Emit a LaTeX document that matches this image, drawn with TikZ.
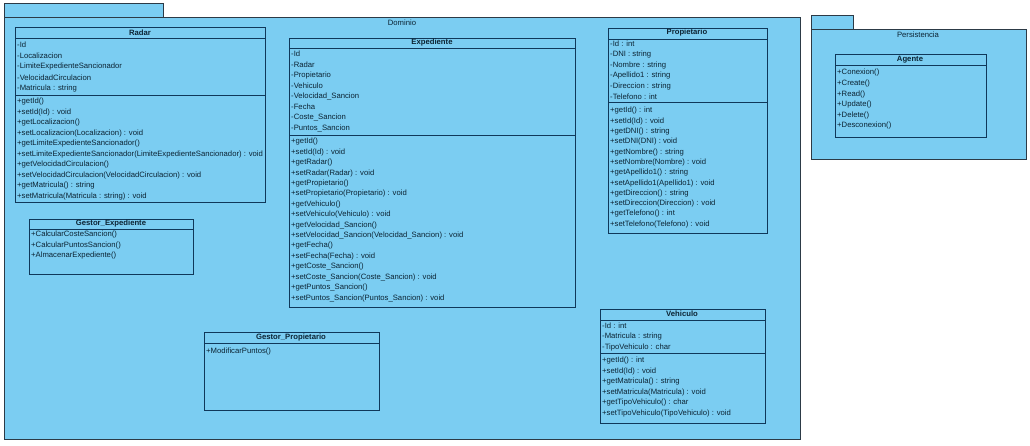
\documentclass[tikz,border=0pt]{standalone}
\usepackage{fontspec}
\setmainfont{Liberation Sans}
\definecolor{pkgfill}{HTML}{7BCDF2}
\definecolor{pkgline}{HTML}{2C3A46}
\definecolor{clsline}{HTML}{10385A}
\definecolor{txt}{HTML}{0C2434}
\tikzset{
  pkg/.style={draw=pkgline, fill=pkgfill, line width=0.9pt},
  cls/.style={draw=clsline, line width=0.9pt},
  clsbox/.style={cls, fill=pkgfill, anchor=north west, inner sep=0pt, outer sep=0pt},
  item/.style={anchor=west, inner sep=0pt, font=\fontsize{7.7}{8}\selectfont, text=txt},
  ctitle/.style={inner sep=0pt, font=\fontsize{7.7}{8}\selectfont\bfseries, text=txt},
  ptitle/.style={inner sep=0pt, font=\fontsize{7.7}{8}\selectfont, text=txt},
}
\newcommand{\umllines}[5]{%
  \foreach \linetext [count=\i from 0] in {#5} {
    \node[item] (#1\i) at (#2, #3+\i*#4) {\linetext};
  }%
}
\begin{document}
\begin{tikzpicture}[x=1pt,y=-1pt]
\useasboundingbox (0,0) rectangle (1030,445);

% ---------------- Dominio package
\draw[pkg] (4,3) rectangle (163,17);
\node[pkg, anchor=north west, minimum width=796pt, minimum height=422pt, inner sep=0pt, outer sep=0pt] (dominio) at (4,17) {};
\node[ptitle] (dominio-t) at (402,23) {Dominio};

% Radar
\node[clsbox, minimum width=250pt, minimum height=175pt] (radar) at (15,27) {};
\draw[cls] (15,38) -- (265,38);
\draw[cls] (15,95) -- (265,95);
\node[ctitle] (radar-t) at (140,33) {Radar};
\umllines{radar-a}{17}{45}{11}{-Id,-Localizacion,-LimiteExpedienteSancionador,-VelocidadCirculacion,-Matricula : string}
\umllines{radar-m}{17}{102}{10.5}{+getId(),+setId(Id) : void,+getLocalizacion(),+setLocalizacion(Localizacion) : void,+getLimiteExpedienteSancionador(),+setLimiteExpedienteSancionador(LimiteExpedienteSancionador) : void,+getVelocidadCirculacion(),+setVelocidadCirculacion(VelocidadCirculacion) : void,+getMatricula() : string,+setMatricula(Matricula : string) : void}

% Gestor_Expediente
\node[clsbox, minimum width=164pt, minimum height=55pt] (gexp) at (29,219) {};
\draw[cls] (29,229) -- (193,229);
\node[ctitle] (gexp-t) at (111,224) {Gestor\_Expediente};
\umllines{gexp-m}{31}{235}{10.5}{+CalcularCosteSancion(),+CalcularPuntosSancion(),+AlmacenarExpediente()}

% Expediente
\node[clsbox, minimum width=286pt, minimum height=269pt] (exp) at (289,38) {};
\draw[cls] (289,48) -- (575,48);
\draw[cls] (289,135) -- (575,135);
\node[ctitle] (exp-t) at (432,43) {Expediente};
\umllines{exp-a}{291}{54}{10.6}{-Id,-Radar,-Propietario,-Vehiculo,-Velocidad\_Sancion,-Fecha,-Coste\_Sancion,-Puntos\_Sancion}
\umllines{exp-m}{291}{142}{10.4}{+getId(),+setId(Id) : void,+getRadar(),+setRadar(Radar) : void,+getPropietario(),+setPropietario(Propietario) : void,+getVehiculo(),+setVehiculo(Vehiculo) : void,+getVelocidad\_Sancion(),+setVelocidad\_Sancion(Velocidad\_Sancion) : void,+getFecha(),+setFecha(Fecha) : void,+getCoste\_Sancion(),+setCoste\_Sancion(Coste\_Sancion) : void,+getPuntos\_Sancion(),+setPuntos\_Sancion(Puntos\_Sancion) : void}

% Propietario
\node[clsbox, minimum width=159pt, minimum height=205pt] (prop) at (608,28) {};
\draw[cls] (608,39) -- (767,39);
\draw[cls] (608,102) -- (767,102);
\node[ctitle] (prop-t) at (687,33) {Propietario};
\umllines{prop-a}{610}{44}{10.6}{-Id : int,-DNI : string,-Nombre : string,-Apellido1 : string,-Direccion : string,-Telefono : int}
\umllines{prop-m}{610}{111}{10.3}{+getId() : int,+setId(Id) : void,+getDNI() : string,+setDNI(DNI) : void,+getNombre() : string,+setNombre(Nombre) : void,+getApellido1() : string,+setApellido1(Apellido1) : void,+getDireccion() : string,+setDireccion(Direccion) : void,+getTelefono() : int,+setTelefono(Telefono) : void}

% Vehiculo
\node[clsbox, minimum width=165pt, minimum height=114pt] (veh) at (600,309) {};
\draw[cls] (600,320) -- (765,320);
\draw[cls] (600,353) -- (765,353);
\node[ctitle] (veh-t) at (682,314) {Vehiculo};
\umllines{veh-a}{602}{326}{11}{-Id : int,-Matricula : string,-TipoVehiculo : char}
\umllines{veh-m}{602}{361}{10.4}{+getId() : int,+setId(Id) : void,+getMatricula() : string,+setMatricula(Matricula) : void,+getTipoVehiculo() : char,+setTipoVehiculo(TipoVehiculo) : void}

% Gestor_Propietario
\node[clsbox, minimum width=175pt, minimum height=78pt] (gprop) at (204,332) {};
\draw[cls] (204,343) -- (379,343);
\node[ctitle] (gprop-t) at (291,338) {Gestor\_Propietario};
\umllines{gprop-m}{206}{351}{10.5}{+ModificarPuntos()}

% ---------------- Persistencia package
\draw[pkg] (811,15) rectangle (853,29);
\node[pkg, anchor=north west, minimum width=215pt, minimum height=130pt, inner sep=0pt, outer sep=0pt] (pers) at (811,29) {};
\node[ptitle] (pers-t) at (918,35) {Persistencia};

% Agente
\node[clsbox, minimum width=151pt, minimum height=83pt] (agente) at (835,54) {};
\draw[cls] (835,65) -- (986,65);
\node[ctitle] (agente-t) at (910,60) {Agente};
\umllines{agente-m}{837}{73}{10.6}{+Conexion(),+Create(),+Read(),+Update(),+Delete(),+Desconexion()}

\end{tikzpicture}
\end{document}
